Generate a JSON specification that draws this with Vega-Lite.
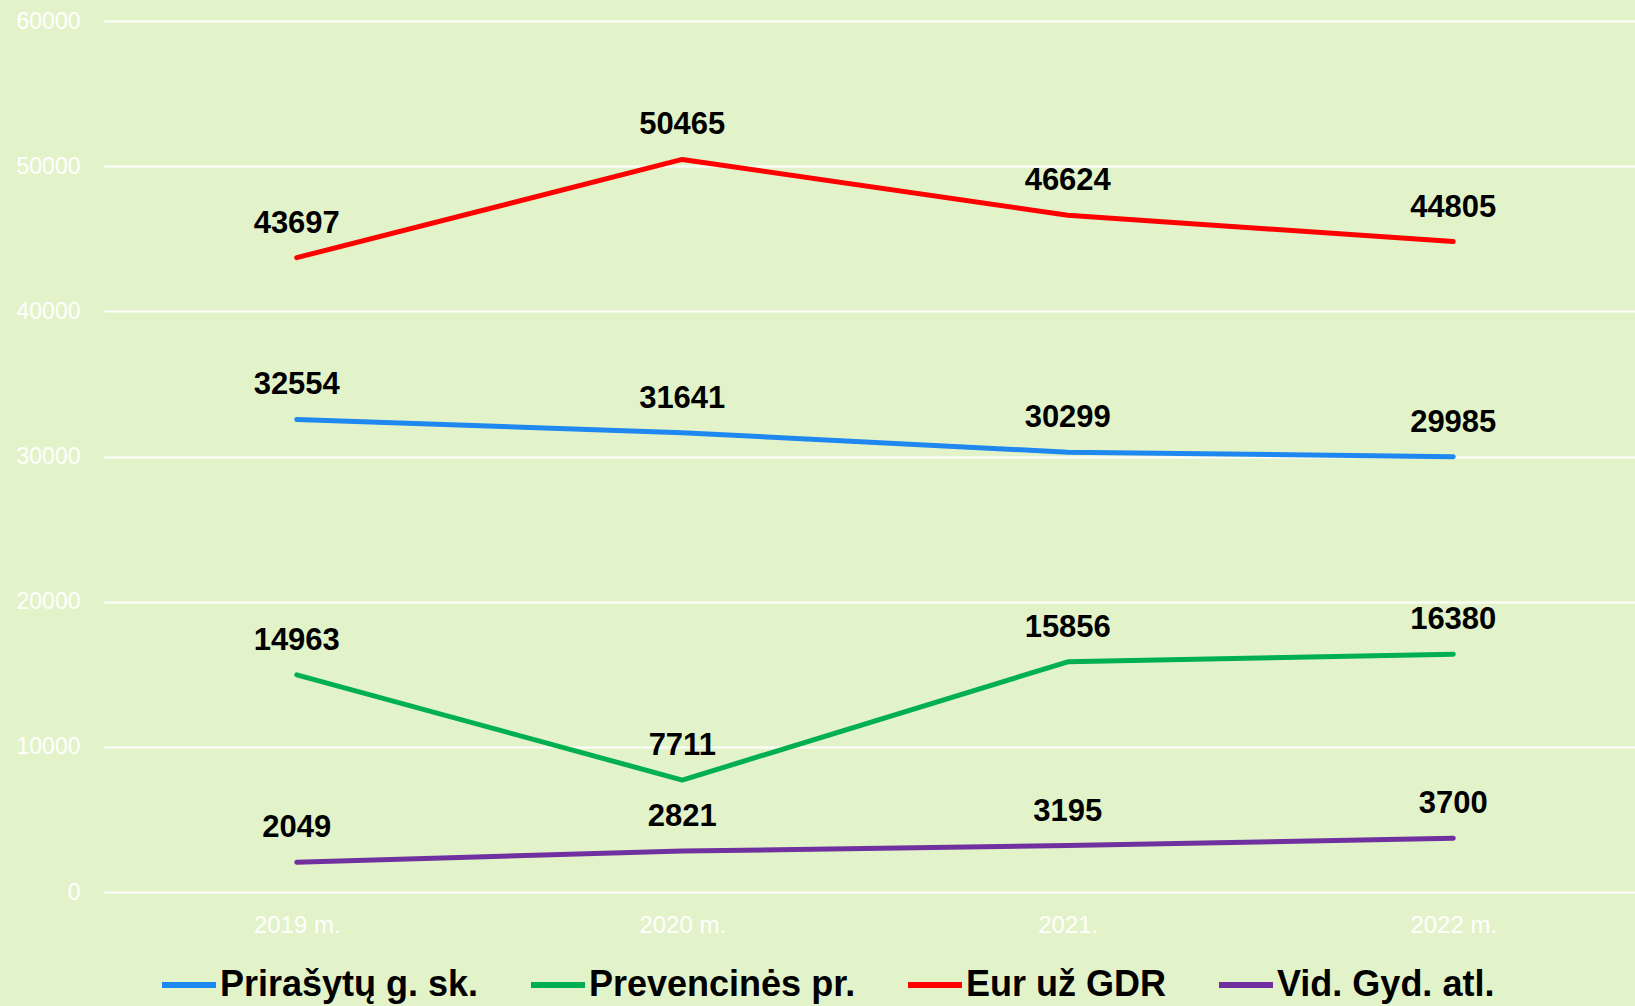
{
  "$schema": "https://vega.github.io/schema/vega-lite/v6.json",
  "width": 1542,
  "height": 871,
  "autosize": "none",
  "padding": {"left": 104, "top": 21, "right": 0, "bottom": 114},
  "background": "#E2F3C9",
  "config": {
    "view": {"stroke": null},
    "font": "Liberation Sans"
  },
  "data": {
    "values": [
      {"year": "2019 m.", "series": "Prirašytų g. sk.", "value": 32554},
      {"year": "2020 m.", "series": "Prirašytų g. sk.", "value": 31641},
      {"year": "2021.", "series": "Prirašytų g. sk.", "value": 30299},
      {"year": "2022 m.", "series": "Prirašytų g. sk.", "value": 29985},
      {"year": "2019 m.", "series": "Prevencinės pr.", "value": 14963},
      {"year": "2020 m.", "series": "Prevencinės pr.", "value": 7711},
      {"year": "2021.", "series": "Prevencinės pr.", "value": 15856},
      {"year": "2022 m.", "series": "Prevencinės pr.", "value": 16380},
      {"year": "2019 m.", "series": "Eur už GDR", "value": 43697},
      {"year": "2020 m.", "series": "Eur už GDR", "value": 50465},
      {"year": "2021.", "series": "Eur už GDR", "value": 46624},
      {"year": "2022 m.", "series": "Eur už GDR", "value": 44805},
      {"year": "2019 m.", "series": "Vid. Gyd. atl.", "value": 2049},
      {"year": "2020 m.", "series": "Vid. Gyd. atl.", "value": 2821},
      {"year": "2021.", "series": "Vid. Gyd. atl.", "value": 3195},
      {"year": "2022 m.", "series": "Vid. Gyd. atl.", "value": 3700}
    ]
  },
  "encoding": {
    "x": {
      "field": "year",
      "type": "ordinal",
      "sort": ["2019 m.", "2020 m.", "2021.", "2022 m."],
      "scale": {"type": "point", "padding": 0.5},
      "axis": {
        "title": null,
        "labelAngle": 0,
        "ticks": false,
        "domain": false,
        "grid": false,
        "labelColor": "#FFFFFF",
        "labelFontSize": 24,
        "labelPadding": 21
      }
    },
    "y": {
      "field": "value",
      "type": "quantitative",
      "scale": {"domain": [0, 60000], "nice": false},
      "axis": {
        "title": null,
        "values": [0, 10000, 20000, 30000, 40000, 50000, 60000],
        "ticks": false,
        "domain": false,
        "grid": true,
        "gridColor": "#FFFFFF",
        "gridWidth": 2,
        "labelColor": "#FFFFFF",
        "labelFontSize": 23,
        "labelPadding": 24,
        "format": "d"
      }
    }
  },
  "layer": [
    {
      "mark": {"type": "line", "strokeWidth": 5, "strokeCap": "round", "strokeJoin": "round"},
      "encoding": {
        "color": {
          "field": "series",
          "type": "nominal",
          "sort": ["Prirašytų g. sk.", "Prevencinės pr.", "Eur už GDR", "Vid. Gyd. atl."],
          "scale": {
            "domain": ["Prirašytų g. sk.", "Prevencinės pr.", "Eur už GDR", "Vid. Gyd. atl."],
            "range": ["#1F87F0", "#00B050", "#FF0000", "#7030A0"]
          },
          "legend": {
            "title": null,
            "orient": "none",
            "direction": "horizontal",
            "legendX": 55,
            "legendY": 934,
            "padding": 0,
            "symbolType": "stroke",
            "symbolSize": 2916,
            "symbolStrokeWidth": 6,
            "labelFontWeight": "bold",
            "labelFontSize": 36,
            "labelColor": "#000000",
            "labelOffset": 1,
            "columnPadding": 40,
            "labelLimit": 500
          }
        }
      }
    },
    {
      "mark": {"type": "text", "fontWeight": "bold", "fontSize": 31, "color": "#000000", "baseline": "middle", "dy": -34},
      "encoding": {
        "text": {"field": "value", "type": "quantitative", "format": "d"},
        "detail": {"field": "series"}
      }
    }
  ]
}
